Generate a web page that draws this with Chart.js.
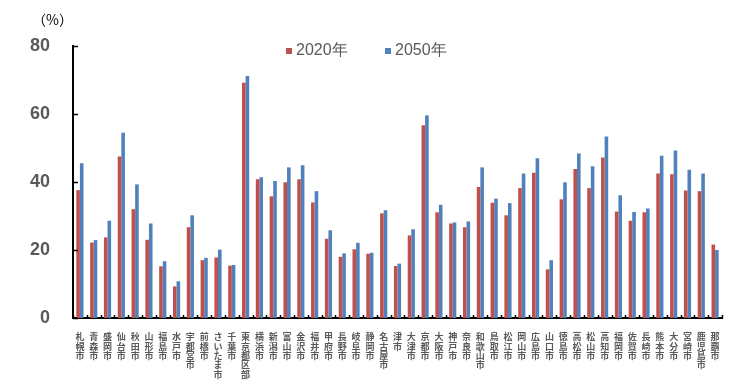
<!DOCTYPE html>
<html>
<head>
<meta charset="utf-8">
<script src="https://cdn.jsdelivr.net/npm/chart.js@4/dist/chart.umd.min.js"></script>
<style>
  html, body { margin: 0; padding: 0; background: #fff; }
  #wrap { position: relative; width: 750px; height: 387px; }
</style>
</head>
<body>
<div id="wrap"><canvas id="chart"></canvas></div>
<script>
const cities = ['札幌市','青森市','盛岡市','仙台市','秋田市','山形市','福島市','水戸市','宇都宮市','前橋市',
  'さいたま市','千葉市','東京都区部','横浜市','新潟市','富山市','金沢市','福井市','甲府市','長野市',
  '岐阜市','静岡市','名古屋市','津市','大津市','京都市','大阪市','神戸市','奈良市','和歌山市',
  '鳥取市','松江市','岡山市','広島市','山口市','徳島市','高松市','松山市','高知市','福岡市',
  '佐賀市','長崎市','熊本市','大分市','宮崎市','鹿児島市','那覇市'];

const values2020 = [37.6,22.2,23.7,47.5,32.0,23.0,15.2,9.3,26.7,17.0,
  17.8,15.4,69.2,40.8,35.8,39.9,40.8,34.0,23.3,18.0,
  20.2,18.9,30.8,15.3,24.3,56.7,31.1,27.8,26.7,38.5,
  33.9,30.2,38.2,42.7,14.3,34.9,43.8,38.2,47.2,31.3,
  28.6,31.1,42.5,42.3,37.5,37.3,21.6];

const values2050 = [45.5,22.9,28.6,54.5,39.3,27.8,16.7,10.8,30.2,17.7,
  20.1,15.6,71.2,41.4,40.3,44.3,44.9,37.3,25.8,19.0,
  22.1,19.2,31.7,16.0,26.1,59.6,33.3,28.1,28.4,44.3,
  35.1,33.8,42.5,47.0,17.0,39.9,48.4,44.6,53.4,36.1,
  31.2,32.2,47.7,49.3,43.6,42.5,20.0];

const yTicks = [0, 20, 40, 60, 80];
const seriesNames = ['2020年', '2050年'];

const gray = '#595959';

// inward tick marks, legend and unit label
const decorations = {
  id: 'decorations',
  afterDraw(chart) {
    const {ctx, chartArea} = chart;
    const x = chart.scales.x, y = chart.scales.y;
    ctx.save();
    ctx.strokeStyle = '#000';
    ctx.lineWidth = 1.5;
    ctx.beginPath();
    yTicks.forEach(v => {
      const py = Math.round(y.getPixelForValue(v)) + 0.5;
      ctx.moveTo(chartArea.left, py);
      ctx.lineTo(chartArea.left + 5, py);
    });
    const step = (x.right - x.left) / cities.length;
    for (let i = 0; i <= cities.length; i++) {
      const px = Math.round(x.left + i * step) + 0.5;
      ctx.moveTo(px, chartArea.bottom);
      ctx.lineTo(px, chartArea.bottom - 3);
    }
    ctx.stroke();

    ctx.font = '16px "Liberation Sans", Arial, sans-serif';
    ctx.textBaseline = 'middle';
    const legendX = [286, 385];
    chart.data.datasets.forEach((ds, i) => {
      ctx.fillStyle = ds.backgroundColor;
      ctx.fillRect(legendX[i], 48, 6, 6);
      ctx.fillStyle = gray;
      ctx.fillText(ds.label, legendX[i] + 10, 51);
    });

    ctx.font = '14px "Noto Sans CJK JP", sans-serif';
    ctx.fillStyle = '#000';
    ctx.fillText('（%）', 32, 20);
    ctx.restore();
  }
};

new Chart(document.getElementById('chart'), {
  type: 'bar',
  data: {
    labels: cities.map(c => c.split('')),
    datasets: [
      { label: seriesNames[0], data: values2020, backgroundColor: '#C0504D',
        categoryPercentage: 0.52, barPercentage: 1.0 },
      { label: seriesNames[1], data: values2050, backgroundColor: '#4F81BD',
        categoryPercentage: 0.52, barPercentage: 1.0 }
    ]
  },
  options: {
    responsive: true,
    maintainAspectRatio: false,
    animation: false,
    layout: { padding: { top: 46, right: 28, bottom: 0, left: 0 } },
    plugins: {
      legend: { display: false },
      tooltip: { enabled: false }
    },
    scales: {
      x: {
        grid: { display: false },
        border: { display: true, color: '#000', width: 2 },
        ticks: {
          autoSkip: false, maxRotation: 0, minRotation: 0, padding: 6,
          color: gray,
          font: { family: '"Noto Sans CJK JP", sans-serif', size: 9, weight: 'bold', lineHeight: 1.05 }
        },
        afterFit(scale) { scale.height = 69; }
      },
      y: {
        min: 0, max: 80,
        afterBuildTicks(scale) { scale.ticks = yTicks.map(v => ({ value: v })); },
        grid: { display: false },
        border: { display: true, color: '#000', width: 2 },
        ticks: {
          padding: 15, color: gray,
          font: { family: '"Liberation Sans", Arial, sans-serif', size: 18, weight: 'bold' }
        },
        afterFit(scale) { scale.width = 73; }
      }
    }
  },
  plugins: [decorations]
});
</script>
</body>
</html>
